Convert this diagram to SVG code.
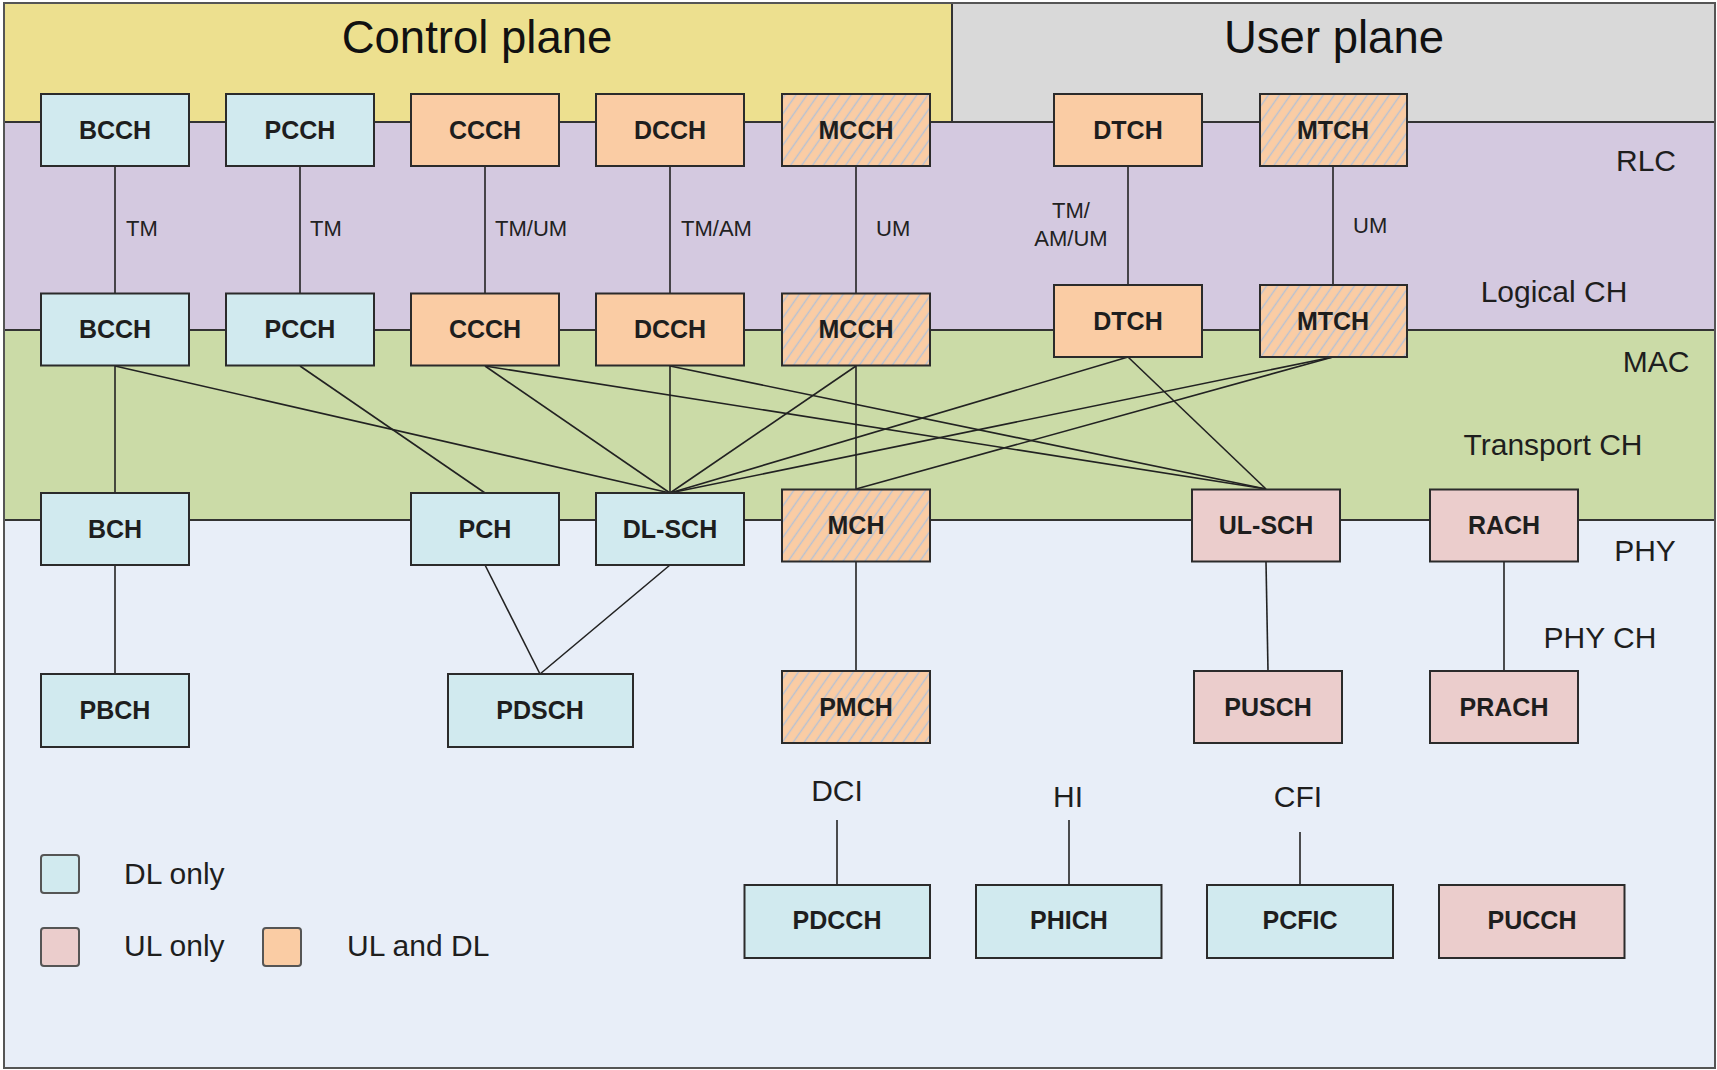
<svg xmlns="http://www.w3.org/2000/svg" width="1717" height="1070" viewBox="0 0 1717 1070">
<style>
.band{stroke:none}
.sep{stroke:#333;stroke-width:2;fill:none}
.box{stroke:#2b2b2b;stroke-width:2}
.dl{fill:#D1EAEF}
.ul{fill:#EBCDCC}
.both{fill:#FACCA4}
.mb{fill:url(#hatch)}
.lbl{font-family:"Liberation Sans",Arial,sans-serif;font-weight:bold;font-size:25px;text-anchor:middle;fill:#1e1e1e}
.title{font-family:"Liberation Sans",Arial,sans-serif;font-size:45.5px;text-anchor:middle;fill:#111}
.side{font-family:"Liberation Sans",Arial,sans-serif;font-size:30px;text-anchor:middle;fill:#1e1e1e}
.mode{font-family:"Liberation Sans",Arial,sans-serif;font-size:22px;fill:#222}
.leg{font-family:"Liberation Sans",Arial,sans-serif;font-size:30px;fill:#1e1e1e}
.conn{stroke:#222;stroke-width:1.6;fill:none}
.lbox{stroke:#555;stroke-width:2}
</style>
<defs>
<pattern id="hatch" patternUnits="userSpaceOnUse" width="9" height="9" patternTransform="rotate(35)">
<rect width="9" height="9" fill="#FACCA4"/>
<line x1="4.5" y1="0" x2="4.5" y2="9" stroke="#B6C1D4" stroke-width="1.4"/>
</pattern>
</defs>

<g id="background">
<rect class="band" x="4" y="3" width="948" height="119" fill="#EDE08F"/>
<rect class="band" x="952" y="3" width="763" height="119" fill="#D9D9D9"/>
<rect class="band" x="4" y="122" width="1711" height="208" fill="#D4C9E0"/>
<rect class="band" x="4" y="330" width="1711" height="190" fill="#CBDBA7"/>
<rect class="band" x="4" y="520" width="1711" height="548" fill="#E8EEF8"/>
<line class="sep" x1="4" y1="122" x2="1715" y2="122"/>
<line class="sep" x1="4" y1="330" x2="1715" y2="330"/>
<line class="sep" x1="4" y1="520" x2="1715" y2="520"/>
<line class="sep" x1="952" y1="3" x2="952" y2="122"/>
<rect x="4" y="3" width="1711" height="1065" fill="none" stroke="#555" stroke-width="2"/>
</g>

<g id="labels">
<text class="title" x="477" y="53">Control plane</text>
<text class="title" x="1334" y="53">User plane</text>
<text class="side" x="1646" y="171">RLC</text>
<text class="side" x="1554" y="302">Logical CH</text>
<text class="side" x="1656" y="372">MAC</text>
<text class="side" x="1553" y="455">Transport CH</text>
<text class="side" x="1645" y="561">PHY</text>
<text class="side" x="1600" y="648">PHY CH</text>
<text class="side" x="837" y="801">DCI</text>
<text class="side" x="1068" y="807">HI</text>
<text class="side" x="1298" y="807">CFI</text>
<text class="mode" x="126" y="236">TM</text>
<text class="mode" x="310" y="236">TM</text>
<text class="mode" x="495" y="236">TM/UM</text>
<text class="mode" x="681" y="236">TM/AM</text>
<text class="mode" x="876" y="236">UM</text>
<text class="mode" x="1071" y="218" text-anchor="middle">TM/</text>
<text class="mode" x="1071" y="246" text-anchor="middle">AM/UM</text>
<text class="mode" x="1353" y="233">UM</text>
</g>

<g id="connectors">
<line class="conn" x1="115" y1="166" x2="115" y2="293"/>
<line class="conn" x1="300" y1="166" x2="300" y2="293"/>
<line class="conn" x1="485" y1="166" x2="485" y2="293"/>
<line class="conn" x1="670" y1="166" x2="670" y2="293"/>
<line class="conn" x1="856" y1="166" x2="856" y2="293"/>
<line class="conn" x1="1128" y1="166" x2="1128" y2="285"/>
<line class="conn" x1="1333" y1="166" x2="1333" y2="285"/>

<line class="conn" x1="115" y1="366" x2="115" y2="493"/>
<line class="conn" x1="115" y1="366" x2="670" y2="493"/>
<line class="conn" x1="300" y1="366" x2="485" y2="493"/>
<line class="conn" x1="485" y1="366" x2="670" y2="493"/>
<line class="conn" x1="485" y1="366" x2="1266" y2="489"/>
<line class="conn" x1="670" y1="366" x2="670" y2="493"/>
<line class="conn" x1="670" y1="366" x2="1266" y2="489"/>
<line class="conn" x1="856" y1="366" x2="670" y2="493"/>
<line class="conn" x1="856" y1="366" x2="856" y2="489"/>
<line class="conn" x1="1128" y1="357" x2="670" y2="493"/>
<line class="conn" x1="1128" y1="357" x2="1266" y2="489"/>
<line class="conn" x1="1333" y1="357" x2="670" y2="493"/>
<line class="conn" x1="1333" y1="357" x2="856" y2="489"/>

<line class="conn" x1="115" y1="565" x2="115" y2="674"/>
<line class="conn" x1="485" y1="565" x2="540" y2="674"/>
<line class="conn" x1="670" y1="565" x2="540" y2="674"/>
<line class="conn" x1="856" y1="562" x2="856" y2="671"/>
<line class="conn" x1="1266" y1="562" x2="1268" y2="671"/>
<line class="conn" x1="1504" y1="562" x2="1504" y2="671"/>

<line class="conn" x1="837" y1="820" x2="837" y2="885"/>
<line class="conn" x1="1069" y1="820" x2="1069" y2="885"/>
<line class="conn" x1="1300" y1="832" x2="1300" y2="885"/>
</g>

<g id="BCCH-rlc"><rect class="box dl" x="41" y="94" width="148" height="72"/><text class="lbl" x="115" y="139">BCCH</text></g>
<g id="PCCH-rlc"><rect class="box dl" x="226" y="94" width="148" height="72"/><text class="lbl" x="300" y="139">PCCH</text></g>
<g id="CCCH-rlc"><rect class="box both" x="411" y="94" width="148" height="72"/><text class="lbl" x="485" y="139">CCCH</text></g>
<g id="DCCH-rlc"><rect class="box both" x="596" y="94" width="148" height="72"/><text class="lbl" x="670" y="139">DCCH</text></g>
<g id="MCCH-rlc"><rect class="box mb" x="782" y="94" width="148" height="72"/><text class="lbl" x="856" y="139">MCCH</text></g>
<g id="DTCH-rlc"><rect class="box both" x="1054" y="94" width="148" height="72"/><text class="lbl" x="1128" y="139">DTCH</text></g>
<g id="MTCH-rlc"><rect class="box mb" x="1260" y="94" width="147" height="72"/><text class="lbl" x="1333" y="139">MTCH</text></g>

<g id="BCCH-log"><rect class="box dl" x="41" y="293.5" width="148" height="72"/><text class="lbl" x="115" y="338">BCCH</text></g>
<g id="PCCH-log"><rect class="box dl" x="226" y="293.5" width="148" height="72"/><text class="lbl" x="300" y="338">PCCH</text></g>
<g id="CCCH-log"><rect class="box both" x="411" y="293.5" width="148" height="72"/><text class="lbl" x="485" y="338">CCCH</text></g>
<g id="DCCH-log"><rect class="box both" x="596" y="293.5" width="148" height="72"/><text class="lbl" x="670" y="338">DCCH</text></g>
<g id="MCCH-log"><rect class="box mb" x="782" y="293.5" width="148" height="72"/><text class="lbl" x="856" y="338">MCCH</text></g>
<g id="DTCH-log"><rect class="box both" x="1054" y="285" width="148" height="72"/><text class="lbl" x="1128" y="330">DTCH</text></g>
<g id="MTCH-log"><rect class="box mb" x="1260" y="285" width="147" height="72"/><text class="lbl" x="1333" y="330">MTCH</text></g>

<g id="BCH"><rect class="box dl" x="41" y="493" width="148" height="72"/><text class="lbl" x="115" y="538">BCH</text></g>
<g id="PCH"><rect class="box dl" x="411" y="493" width="148" height="72"/><text class="lbl" x="485" y="538">PCH</text></g>
<g id="DL-SCH"><rect class="box dl" x="596" y="493" width="148" height="72"/><text class="lbl" x="670" y="538">DL-SCH</text></g>
<g id="MCH"><rect class="box mb" x="782" y="489.5" width="148" height="72"/><text class="lbl" x="856" y="534">MCH</text></g>
<g id="UL-SCH"><rect class="box ul" x="1192" y="489.5" width="148" height="72"/><text class="lbl" x="1266" y="534">UL-SCH</text></g>
<g id="RACH"><rect class="box ul" x="1430" y="489.5" width="148" height="72"/><text class="lbl" x="1504" y="534">RACH</text></g>

<g id="PBCH"><rect class="box dl" x="41" y="674" width="148" height="73"/><text class="lbl" x="115" y="719">PBCH</text></g>
<g id="PDSCH"><rect class="box dl" x="448" y="674" width="185" height="73"/><text class="lbl" x="540" y="719">PDSCH</text></g>
<g id="PMCH"><rect class="box mb" x="782" y="671" width="148" height="72"/><text class="lbl" x="856" y="716">PMCH</text></g>
<g id="PUSCH"><rect class="box ul" x="1194" y="671" width="148" height="72"/><text class="lbl" x="1268" y="716">PUSCH</text></g>
<g id="PRACH"><rect class="box ul" x="1430" y="671" width="148" height="72"/><text class="lbl" x="1504" y="716">PRACH</text></g>

<g id="PDCCH"><rect class="box dl" x="744.5" y="885" width="185.5" height="73"/><text class="lbl" x="837" y="929">PDCCH</text></g>
<g id="PHICH"><rect class="box dl" x="976" y="885" width="185.5" height="73"/><text class="lbl" x="1069" y="929">PHICH</text></g>
<g id="PCFIC"><rect class="box dl" x="1207" y="885" width="186" height="73"/><text class="lbl" x="1300" y="929">PCFIC</text></g>
<g id="PUCCH"><rect class="box ul" x="1439" y="885" width="185.5" height="73"/><text class="lbl" x="1532" y="929">PUCCH</text></g>

<g id="legend">
<rect class="lbox dl" x="41" y="855" width="38" height="38" rx="3"/>
<text class="leg" x="124" y="884">DL only</text>
<rect class="lbox ul" x="41" y="928" width="38" height="38" rx="3"/>
<text class="leg" x="124" y="956">UL only</text>
<rect class="lbox both" x="263" y="928" width="38" height="38" rx="3"/>
<text class="leg" x="347" y="956">UL and DL</text>
</g>
</svg>
